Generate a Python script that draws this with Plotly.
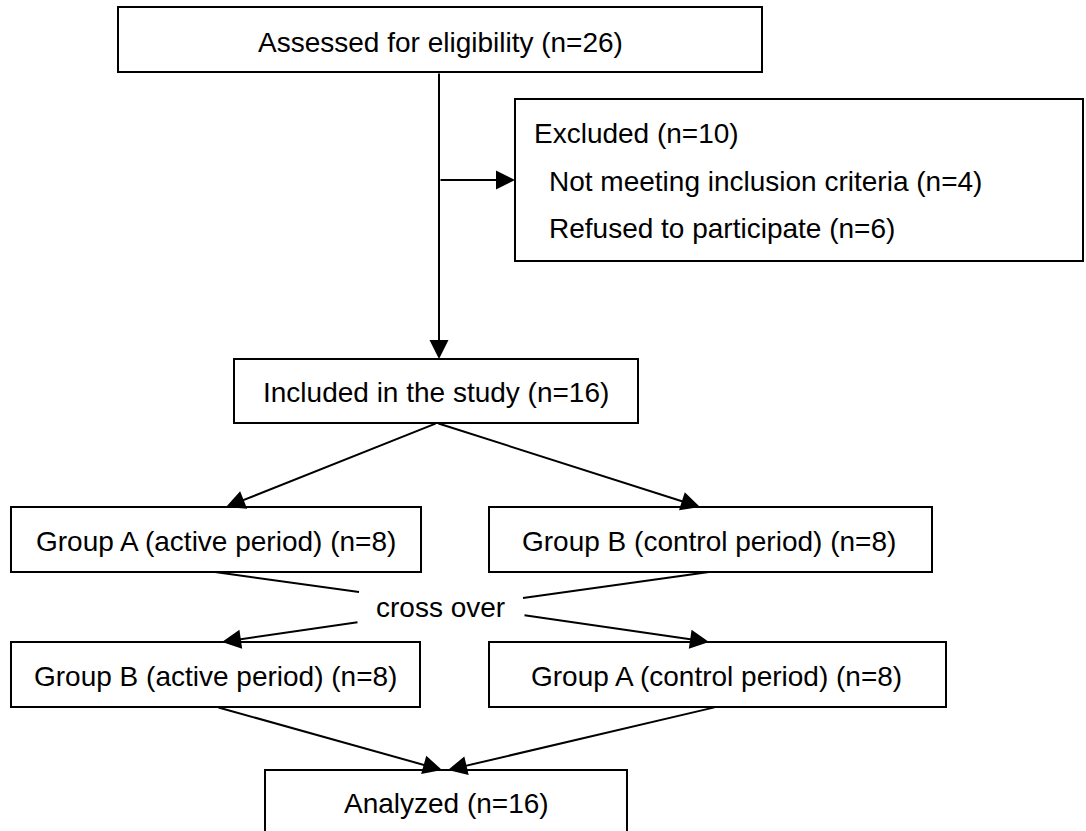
import plotly.graph_objects as go

# ---- data ----
stage_labels = ["Assessed for eligibility", "Included in the study", "Analyzed"]
stage_counts = [26, 16, 16]
excluded_label = "Excluded"
excluded_count = 10
excluded_reasons = ["Not meeting inclusion criteria", "Refused to participate"]
excluded_reason_counts = [4, 6]
period1_labels = ["Group A (active period)", "Group B (control period)"]
period1_counts = [8, 8]
period2_labels = ["Group B (active period)", "Group A (control period)"]
period2_counts = [8, 8]
crossover_label = "cross over"

# ---- layout (pixel coordinates, y downward) ----
W, H = 1086, 831
FONT = dict(family="Liberation Sans, Arial, sans-serif", size=28, color="black")
LW = 2

boxes = {
    "assessed": (118, 7, 762, 72),
    "excluded": (515, 99, 1083, 261),
    "included": (234, 359, 638, 423),
    "p1a": (11, 507, 421, 572),
    "p1b": (489, 507, 932, 572),
    "p2a": (11, 642, 420, 707),
    "p2b": (489, 642, 946, 707),
    "analyzed": (265, 770, 627, 845),
}

fig = go.Figure()
shapes = []
for k, (x0, y0, x1, y1) in boxes.items():
    shapes.append(dict(type="rect", x0=x0, y0=y0, x1=x1, y1=y1,
                       line=dict(color="black", width=LW), fillcolor="white",
                       layer="below"))

# plain lines
plain_lines = [((215, 572), (359, 592)), ((709, 572), (523, 598))]
for (xa, ya), (xb, yb) in plain_lines:
    shapes.append(dict(type="line", x0=xa, y0=ya, x1=xb, y1=yb,
                       line=dict(color="black", width=LW)))

annotations = []

def text(x, y, s, xanchor="center"):
    annotations.append(dict(x=x, y=y, text=s, showarrow=False, xanchor=xanchor,
                            yanchor="middle", font=FONT))

def arrow(xa, ya, xb, yb):
    annotations.append(dict(x=xb, y=yb, ax=xa, ay=ya, xref="x", yref="y",
                            axref="x", ayref="y", text="", showarrow=True,
                            arrowhead=2, arrowsize=1.9, arrowwidth=LW,
                            arrowcolor="black", standoff=0, startstandoff=0))

arrows = [
    ((439, 72), (439, 359)),
    ((439, 180), (515, 180)),
    ((437, 423), (226, 507)),
    ((437, 423), (700, 507)),
    ((359, 622), (222, 642)),
    ((523, 615), (709, 642)),
    ((217, 707), (442, 770)),
    ((716, 707), (448, 770)),
]
for a, b in arrows:
    arrow(*a, *b)

text(440, 42, f"{stage_labels[0]} (n={stage_counts[0]})")
text(532, 133, f"{excluded_label} (n={excluded_count})", "left")
text(547, 181, f"{excluded_reasons[0]} (n={excluded_reason_counts[0]})", "left")
text(547, 228, f"{excluded_reasons[1]} (n={excluded_reason_counts[1]})", "left")
text(436, 392, f"{stage_labels[1]} (n={stage_counts[1]})")
text(216, 541, f"{period1_labels[0]} (n={period1_counts[0]})")
text(709, 541, f"{period1_labels[1]} (n={period1_counts[1]})")
text(440, 607, crossover_label)
text(215, 676, f"{period2_labels[0]} (n={period2_counts[0]})")
text(716, 676, f"{period2_labels[1]} (n={period2_counts[1]})")
text(446, 803, f"{stage_labels[2]} (n={stage_counts[2]})")

fig.update_layout(
    width=W, height=H,
    margin=dict(l=0, r=0, t=0, b=0),
    paper_bgcolor="white", plot_bgcolor="white",
    xaxis=dict(range=[0, W], visible=False, fixedrange=True),
    yaxis=dict(range=[H, 0], visible=False, fixedrange=True),
    shapes=shapes, annotations=annotations, showlegend=False,
)
fig.write_html("out.html", config={"displayModeBar": False},
               post_script="document.body.style.margin='0';document.body.style.overflow='hidden';")
